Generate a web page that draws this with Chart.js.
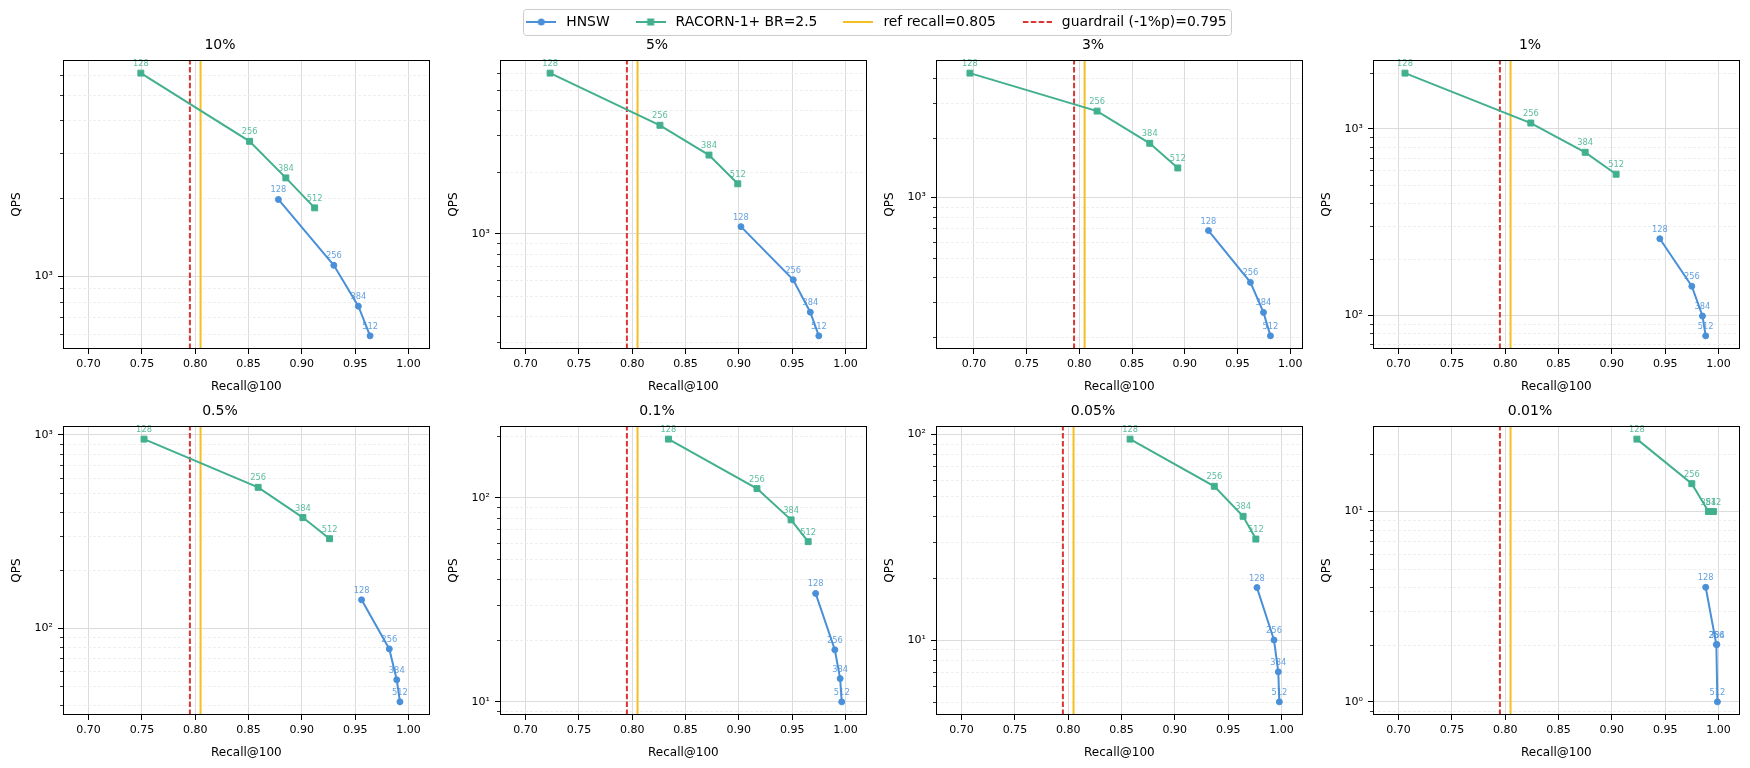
<!DOCTYPE html>
<html>
<head>
<meta charset="utf-8">
<script src="https://cdn.jsdelivr.net/npm/chart.js@4.4.1/dist/chart.umd.min.js"></script>
<style>
  html, body { margin: 0; padding: 0; background: #fff; }
  #wrap { position: relative; width: 1750px; height: 768px; overflow: hidden; background: #fff; }
  #wrap canvas { position: absolute; }
</style>
</head>
<body>
<div id="wrap"></div>
<script>
// ---------------- data ----------------
const PANEL_TITLES = ['10%', '5%', '3%', '1%', '0.5%', '0.1%', '0.05%', '0.01%'];
const EF_SEARCH = [128, 256, 384, 512];

const HNSW_RECALL = [
  [0.878, 0.930, 0.953, 0.964],
  [0.902, 0.951, 0.967, 0.975],
  [0.9225, 0.9623, 0.9747, 0.9813],
  [0.945, 0.975, 0.985, 0.988],
  [0.956, 0.982, 0.989, 0.992],
  [0.972, 0.990, 0.995, 0.9965],
  [0.977, 0.993, 0.997, 0.998],
  [0.988, 0.998, 0.9985, 0.999]
];
const HNSW_QPS = [
  [1982, 1105, 769, 591],
  [1085, 600, 418, 321],
  [683, 375, 265, 202],
  [257, 143, 99, 77.5],
  [140, 78, 54, 41.5],
  [34, 18, 13, 10],
  [18, 10, 7, 5],
  [4, 2, 2, 1]
];
const RACORN_RECALL = [
  [0.749, 0.851, 0.885, 0.912],
  [0.723, 0.826, 0.872, 0.899],
  [0.6962, 0.8168, 0.8668, 0.8934],
  [0.706, 0.824, 0.875, 0.904],
  [0.752, 0.859, 0.901, 0.926],
  [0.834, 0.917, 0.949, 0.965],
  [0.858, 0.937, 0.964, 0.976],
  [0.9235, 0.975, 0.9906, 0.9953]
];
const RACORN_QPS = [
  [6080, 3320, 2400, 1840],
  [6010, 3360, 2410, 1750],
  [4220, 2720, 1874, 1409],
  [1985, 1072, 747, 570],
  [950, 535, 373, 290],
  [194, 111, 78, 61],
  [95, 56, 40, 31],
  [24, 14, 10, 10]
];

const X_MIN = [0.676, 0.676, 0.664, 0.676, 0.676, 0.676, 0.676, 0.676];
const X_MAX = [1.02, 1.02, 1.012, 1.02, 1.02, 1.02, 1.02, 1.02];
const X_TICKS = [0.70, 0.75, 0.80, 0.85, 0.90, 0.95, 1.00];

const REF_RECALL = 0.805;
const GUARDRAIL = 0.795;
const SERIES_NAMES = ['HNSW', 'RACORN-1+ BR=2.5'];
const LINE_NAMES = ['ref recall=0.805', 'guardrail (-1%p)=0.795'];
const X_TITLE = 'Recall@100';
const Y_TITLE = 'QPS';

// ---------------- styles ----------------
const BLUE = '#4a90d9';
const GREEN = '#42b08f';
const YELLOW = '#f4bf1f';
const RED = '#d93535';
const GRID = '#dcdcdc';
const MINOR_GRID = '#ebebeb';
const BLUE_LABEL = 'rgba(74,144,217,0.85)';
const GREEN_LABEL = 'rgba(66,176,143,0.85)';

Chart.defaults.font.family = "'DejaVu Sans', sans-serif";
Chart.defaults.color = '#000';

const SUP = {'0':'⁰','1':'¹','2':'²','3':'³','4':'⁴','5':'⁵','6':'⁶','7':'⁷','8':'⁸','9':'⁹','-':'⁻'};
function isPow10(v) {
  const l = Math.log10(v);
  return Math.abs(l - Math.round(l)) < 1e-9;
}
function pow10Label(v) {
  const e = String(Math.round(Math.log10(v)));
  return '10' + e.split('').map(c => SUP[c]).join('');
}
function logTicks(min, max) {
  const out = [];
  for (let e = Math.floor(Math.log10(min)); e <= Math.ceil(Math.log10(max)); e++) {
    for (let m = 1; m <= 9; m++) {
      const v = m * Math.pow(10, e);
      if (v >= min && v <= max) out.push({ value: v, major: m === 1 });
    }
  }
  return out;
}
function logRange(vals) {
  const lmin = Math.log10(Math.min(...vals));
  const lmax = Math.log10(Math.max(...vals));
  const m = 0.05 * (lmax - lmin);
  return [Math.pow(10, lmin - m), Math.pow(10, lmax + m)];
}

const panelPlugin = {
  id: 'panelDecor',
  beforeDatasetsDraw(chart) {
    const { ctx, chartArea: a, scales: { x, y } } = chart;
    ctx.save();
    ctx.strokeStyle = MINOR_GRID;
    ctx.lineWidth = 0.8;
    ctx.setLineDash([3, 2]);
    for (const t of y.ticks) {
      if (isPow10(t.value)) continue;
      const py = Math.round(y.getPixelForValue(t.value)) + 0.5;
      ctx.beginPath(); ctx.moveTo(a.left, py); ctx.lineTo(a.right, py); ctx.stroke();
    }
    ctx.beginPath(); ctx.rect(a.left, a.top, a.width, a.height); ctx.clip();
    ctx.setLineDash([]);
    ctx.strokeStyle = YELLOW; ctx.lineWidth = 2;
    let px = x.getPixelForValue(REF_RECALL);
    ctx.beginPath(); ctx.moveTo(px, a.bottom); ctx.lineTo(px, a.top); ctx.stroke();
    ctx.setLineDash([5.5, 2.4]);
    ctx.strokeStyle = RED; ctx.lineWidth = 2;
    px = x.getPixelForValue(GUARDRAIL);
    ctx.beginPath(); ctx.moveTo(px, a.bottom); ctx.lineTo(px, a.top); ctx.stroke();
    ctx.restore();
  },
  afterDatasetsDraw(chart) {
    const { ctx, chartArea: a, scales: { y } } = chart;
    ctx.save();
    ctx.font = "8.3px 'DejaVu Sans'";
    ctx.textAlign = 'center';
    ctx.textBaseline = 'bottom';
    chart.data.datasets.forEach((ds, di) => {
      const meta = chart.getDatasetMeta(di);
      ctx.fillStyle = di === 0 ? BLUE_LABEL : GREEN_LABEL;
      meta.data.forEach((el, j) => {
        ctx.fillText(String(EF_SEARCH[j]), el.x, el.y - 5);
      });
    });
    ctx.strokeStyle = '#000';
    ctx.lineWidth = 1;
    ctx.strokeRect(Math.round(a.left) + 0.5, Math.round(a.top) + 0.5,
                   Math.round(a.width) - 1, Math.round(a.height) - 1);
    ctx.lineWidth = 0.8;
    for (const t of y.ticks) {
      if (isPow10(t.value)) continue;
      const py = Math.round(y.getPixelForValue(t.value)) + 0.5;
      ctx.beginPath(); ctx.moveTo(a.left - 3, py); ctx.lineTo(a.left, py); ctx.stroke();
    }
    ctx.restore();
  }
};

const wrap = document.getElementById('wrap');
const CANVAS_LEFT = [0, 437, 873, 1310];
const ROW_TOP = [30, 396];
const CW = 435, CH = 364;

PANEL_TITLES.forEach((title, i) => {
  const cv = document.createElement('canvas');
  cv.width = CW; cv.height = CH;
  cv.style.width = CW + 'px'; cv.style.height = CH + 'px';
  cv.style.left = CANVAS_LEFT[i % 4] + 'px';
  cv.style.top = ROW_TOP[Math.floor(i / 4)] + 'px';
  wrap.appendChild(cv);

  const [ymin, ymax] = logRange(HNSW_QPS[i].concat(RACORN_QPS[i]));

  new Chart(cv, {
    type: 'line',
    data: {
      datasets: [
        {
          label: SERIES_NAMES[0],
          data: HNSW_RECALL[i].map((r, j) => ({ x: r, y: HNSW_QPS[i][j] })),
          borderColor: BLUE, backgroundColor: BLUE,
          borderWidth: 2, tension: 0,
          pointStyle: 'circle', pointRadius: 3, pointBorderWidth: 1,
          pointBackgroundColor: BLUE, pointBorderColor: BLUE,
          order: 1
        },
        {
          label: SERIES_NAMES[1],
          data: RACORN_RECALL[i].map((r, j) => ({ x: r, y: RACORN_QPS[i][j] })),
          borderColor: GREEN, backgroundColor: GREEN,
          borderWidth: 2, tension: 0,
          pointStyle: 'rect', pointRadius: 4.2, pointBorderWidth: 1,
          pointBackgroundColor: GREEN, pointBorderColor: GREEN,
          order: 0
        }
      ]
    },
    options: {
      responsive: false,
      animation: false,
      devicePixelRatio: 1,
      events: [],
      layout: { padding: { left: 10, right: 5, top: 0, bottom: 0 } },
      plugins: {
        legend: { display: false },
        tooltip: { enabled: false },
        title: {
          display: true, text: title, color: '#000',
          font: { size: 14, weight: 'normal', lineHeight: 1.2 },
          padding: { top: 7.1, bottom: 6.1 }
        }
      },
      scales: {
        x: {
          type: 'linear', min: X_MIN[i], max: X_MAX[i],
          afterBuildTicks: s => { s.ticks = X_TICKS.map(v => ({ value: v })); },
          afterFit: s => { s.height = 45; },
          ticks: {
            autoSkip: false, maxRotation: 0, minRotation: 0,
            padding: 4, color: '#000', font: { size: 11 },
            callback: v => Number(v).toFixed(2)
          },
          grid: { color: GRID, lineWidth: 1, tickColor: '#000', tickLength: 5, tickWidth: 1 },
          border: { display: false },
          title: { display: true, text: X_TITLE, color: '#000', font: { size: 12, lineHeight: 1.2 }, padding: 0 }
        },
        y: {
          type: 'logarithmic', min: ymin, max: ymax,
          afterBuildTicks: s => { s.ticks = logTicks(ymin, ymax); },
          afterFit: s => { s.width = 53; },
          ticks: {
            autoSkip: false, padding: 5, color: '#000', font: { size: 11 },
            callback: v => (isPow10(v) ? pow10Label(v) : '')
          },
          grid: {
            color: c => (c.tick && isPow10(c.tick.value)) ? GRID : 'rgba(0,0,0,0)',
            tickColor: c => (c.tick && isPow10(c.tick.value)) ? '#000' : 'rgba(0,0,0,0)',
            lineWidth: 1, tickLength: 5, tickWidth: 1
          },
          border: { display: false },
          title: { display: true, text: Y_TITLE, color: '#000', font: { size: 12, lineHeight: 1.2 }, padding: 0 }
        }
      }
    },
    plugins: [panelPlugin]
  });
});

// ---------------- legend ----------------
function makeHandle(kind) {
  const c = document.createElement('canvas');
  c.width = 30; c.height = 10;
  const g = c.getContext('2d');
  g.lineWidth = 2;
  if (kind === 0) {
    g.strokeStyle = BLUE; g.beginPath(); g.moveTo(0, 5); g.lineTo(30, 5); g.stroke();
    g.fillStyle = BLUE; g.beginPath(); g.arc(15, 5, 3.5, 0, Math.PI * 2); g.fill();
  } else if (kind === 1) {
    g.strokeStyle = GREEN; g.beginPath(); g.moveTo(0, 5); g.lineTo(30, 5); g.stroke();
    g.fillStyle = GREEN; g.fillRect(11.5, 1.5, 7, 7);
  } else if (kind === 2) {
    g.strokeStyle = YELLOW; g.beginPath(); g.moveTo(0, 5); g.lineTo(30, 5); g.stroke();
  } else {
    g.strokeStyle = RED; g.setLineDash([5.5, 2.4]);
    g.beginPath(); g.moveTo(1, 5); g.lineTo(30, 5); g.stroke();
  }
  return c;
}
const HANDLES = [0, 1, 2, 3].map(makeHandle);
const LEGEND_TEXTS = SERIES_NAMES.concat(LINE_NAMES);

const frameInfo = {};
const legendFrame = {
  id: 'legendFrame',
  afterDraw(chart) {
    const hb = chart.legend.legendHitBoxes;
    if (!hb || !hb.length) return;
    const last = hb[hb.length - 1];
    const cy = hb[0].top + hb[0].height / 2;
    const l = hb[0].left, r = last.left + last.width + 5;
    frameInfo.left = l; frameInfo.cy = cy;
    const ctx = chart.ctx;
    ctx.save();
    ctx.strokeStyle = '#cccccc';
    ctx.lineWidth = 1;
    ctx.beginPath();
    ctx.roundRect(Math.round(l) + 0.5, Math.round(cy - 13) + 0.5, Math.round(r - l), 26, 3);
    ctx.stroke();
    ctx.restore();
  }
};

const lc = document.createElement('canvas');
lc.width = 800; lc.height = 90;
lc.style.width = '800px'; lc.style.height = '90px';
lc.style.left = '473px'; lc.style.top = '0px';
wrap.appendChild(lc);
new Chart(lc, {
  type: 'line',
  data: { datasets: LEGEND_TEXTS.map(t => ({ label: t, data: [] })) },
  options: {
    responsive: false, animation: false, devicePixelRatio: 1, events: [],
    layout: { padding: 0 },
    scales: { x: { display: false }, y: { display: false } },
    plugins: {
      tooltip: { enabled: false },
      title: { display: false },
      legend: {
        display: true, position: 'top',
        labels: {
          usePointStyle: true, pointStyleWidth: 36, padding: 23,
          color: '#000', font: { size: 13.9 },
          generateLabels: chart => chart.data.datasets.map((d, i) => ({
            text: d.label, pointStyle: HANDLES[i], fillStyle: 'rgba(0,0,0,0)',
            strokeStyle: 'rgba(0,0,0,0)', lineWidth: 0, hidden: false, datasetIndex: i
          }))
        }
      }
    }
  },
  plugins: [legendFrame]
});
// place the legend canvas so its frame sits where the reference frame is
if (frameInfo.left !== undefined) {
  lc.style.left = (523 - frameInfo.left) + 'px';
  lc.style.top = (22 - frameInfo.cy) + 'px';
}
</script>
</body>
</html>
